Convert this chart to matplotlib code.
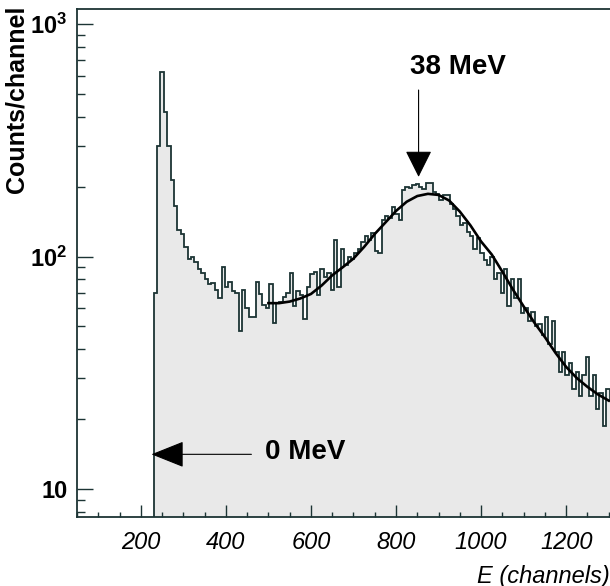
import numpy as np
import matplotlib
matplotlib.use('Agg')
import matplotlib.pyplot as plt

plt.rcParams['font.family'] = ['Liberation Sans', 'DejaVu Sans']
plt.rcParams['mathtext.fontset'] = 'custom'
plt.rcParams['mathtext.rm'] = 'Liberation Sans'
plt.rcParams['mathtext.bf'] = 'Liberation Sans:bold'

# spectrum, 8-channel bins starting at channel 230
bin_start = 230
bin_width = 8
counts = [
    70, 300, 620, 420, 300, 214, 165, 130, 125, 110,
    98, 100, 95, 88, 85, 80, 76, 77, 72, 66,
    90, 74, 78, 71, 70, 48, 72, 60, 55, 55,
    78, 69, 62, 60, 76, 52, 63, 64, 67, 70,
    85, 61, 71, 68, 54, 74, 84, 86, 68, 88,
    82, 85, 72, 118, 74, 108, 92, 100, 98, 104,
    108, 115, 122, 118, 126, 106, 104, 144, 150, 146,
    164, 152, 144, 194, 200, 198, 204, 206, 200, 196,
    207, 207, 190, 186, 175, 183, 183, 168, 160, 150,
    137, 140, 128, 122, 108, 120, 104, 97, 92, 100,
    80, 85, 70, 88, 61, 80, 66, 80, 57, 60,
    53, 58, 50, 51, 46, 55, 42, 53, 39, 32,
    39, 31, 35, 27, 32, 25, 31, 37, 25, 31,
    22, 26, 18.6, 27, 24,
]

# fitted curve
fit_ch = [500, 525, 550, 575, 600, 625, 650, 675, 700, 725, 750, 775, 800,
          825, 850, 875, 900, 925, 950, 975, 1000, 1025, 1050, 1075, 1100,
          1125, 1150, 1175, 1200, 1225, 1250, 1275, 1300]
fit_val = [63, 63, 64, 66, 69, 75, 83, 90, 98, 110, 125, 140, 157,
           172, 182, 186, 184, 174, 156, 136, 116, 102, 86, 72, 61,
           52, 45, 38.5, 33.5, 30, 27.5, 25.5, 24]

xticks = [200, 400, 600, 800, 1000, 1200]
yticks = [10, 100, 1000]
ylabels = ['10', r'$\mathbf{10^2}$', r'$\mathbf{10^3}$']

line_c = '#1c3434'
fill_c = '#e9e9e9'
ymin, ymax = 7.58, 1160

edges = bin_start + bin_width * np.arange(len(counts) + 1)

fig = plt.figure(figsize=(6.1, 5.86), dpi=100)
ax = fig.add_axes([77 / 610, 1 - 517 / 586, 1 - 77 / 610, (517 - 9) / 586])
ax.set_yscale('log')

ax.stairs(counts, edges, baseline=1, fill=True, color=fill_c, zorder=1)
ax.stairs(counts, edges, baseline=1, color=line_c, lw=1.3, zorder=2)
ax.plot(fit_ch, fit_val, color='black', lw=1.9, zorder=3)

ax.set_xlim(50, 1303)
ax.set_ylim(ymin, ymax)

ax.set_xticks(xticks)
ax.set_xticklabels([str(t) for t in xticks], fontstyle='italic', fontsize=17)
ax.set_xticks(np.arange(50, 1301, 50), minor=True)
ax.set_yticks(yticks)
ax.set_yticklabels(ylabels, fontweight='bold', fontsize=17)
ax.tick_params(axis='x', which='major', direction='in', length=9, width=1, color=line_c, pad=10)
ax.tick_params(axis='x', which='minor', direction='in', length=3.5, width=1, color=line_c)
ax.tick_params(axis='y', which='major', direction='in', length=11.5, width=1, color=line_c, pad=7)
ax.tick_params(axis='y', which='minor', direction='in', length=6, width=1, color=line_c, labelleft=False)
for s in ['left', 'bottom', 'top']:
    ax.spines[s].set_color(line_c)
    ax.spines[s].set_linewidth(1.3)
ax.spines['right'].set_visible(False)

fig.text(0.027, 1 - 99 / 586, 'Counts/channel', rotation=90, fontweight='bold',
         fontsize=18, ha='center', va='center')
fig.text(1.0, 1 - 576 / 586, 'E (channels)', fontstyle='italic', fontsize=17,
         ha='right', va='center')

# annotations
ax.annotate('', xy=(853, 220), xytext=(853, 520),
            arrowprops=dict(arrowstyle='-|>,head_length=1.2,head_width=0.6',
                            mutation_scale=14, color='black', lw=0.8,
                            shrinkA=0, shrinkB=0))
ax.text(945, 650, '38 MeV', fontweight='bold', fontsize=20, ha='center', va='center')

ax.annotate('', xy=(225, 14.1), xytext=(460, 14.1),
            arrowprops=dict(arrowstyle='-|>,head_length=1.5,head_width=0.6',
                            mutation_scale=14, color='black', lw=0.8,
                            shrinkA=0, shrinkB=0))
ax.text(491, 14.4, '0 MeV', fontweight='bold', fontsize=20, ha='left', va='center')

fig.savefig('out.png', dpi=100)
